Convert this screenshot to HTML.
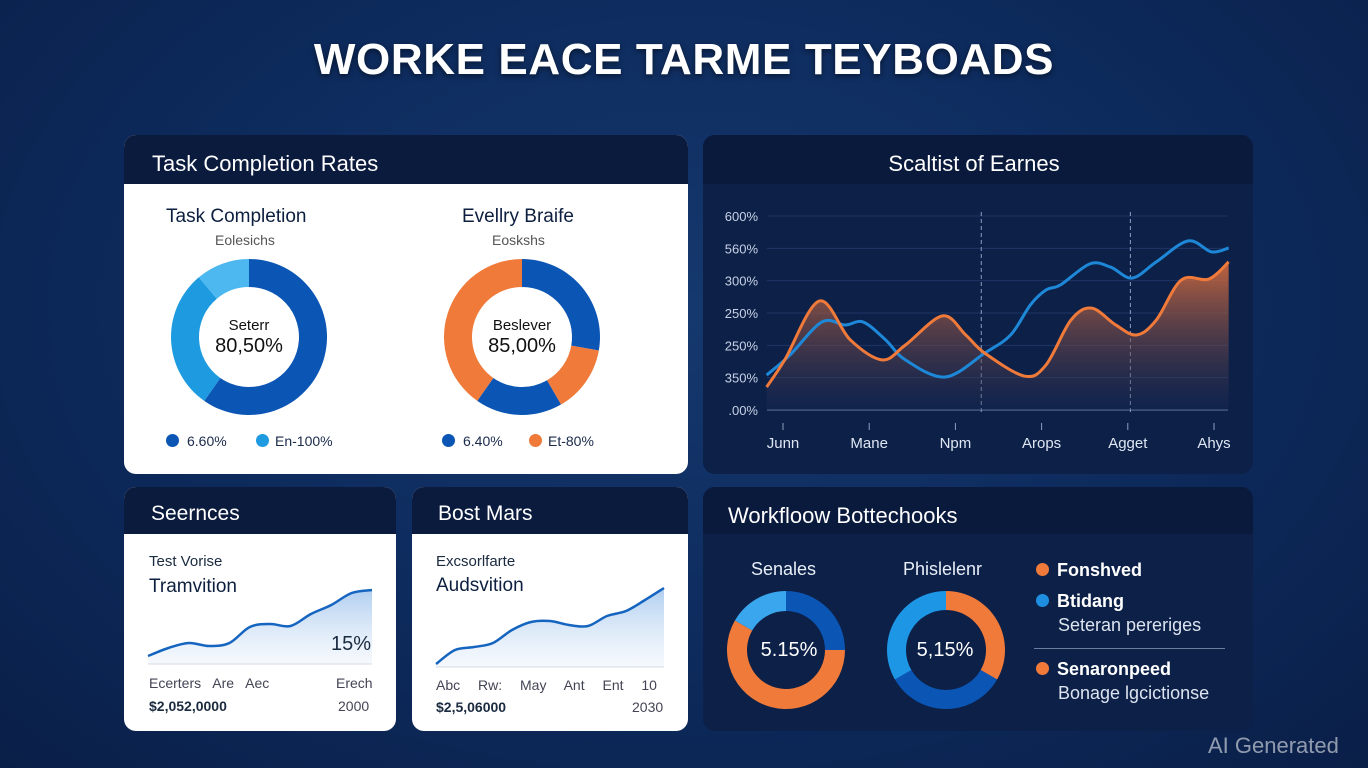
<!DOCTYPE html>
<html><head><meta charset="utf-8">
<style>
*{box-sizing:border-box;margin:0;padding:0}
body{width:1368px;height:768px;overflow:hidden;font-family:"Liberation Sans",sans-serif;background:radial-gradient(ellipse at 50% 40%,#15386e 0%,#0d2a5c 55%,#0a1f48 100%);position:relative;color:#fff}
.abs{position:absolute}
.panel{position:absolute;border-radius:12px;overflow:hidden}
.hdr{position:absolute;left:0;right:0;top:0;background:#0a1b3e;font-size:22px;color:#fff}
.white{background:#fff}
.dark{background:#0c2048}
.t{position:absolute;white-space:nowrap}
</style></head><body>
<div class="t" style="left:0;width:1368px;top:35px;text-align:center;font-size:44px;font-weight:bold;letter-spacing:0.6px;text-shadow:0 2px 6px rgba(0,0,0,.5)">WORKE EACE TARME TEYBOADS</div>

<!-- top-left panel -->
<div class="panel white" style="left:124px;top:135px;width:564px;height:339px">
  <div class="hdr" style="height:49px"><span class="t" style="left:28px;top:16px">Task Completion Rates</span></div>
  <div class="t" style="left:42px;top:71px;font-size:19px;color:#0d1f3f">Task Completion</div>
  <div class="t" style="left:91px;top:97px;font-size:14px;color:#555">Eolesichs</div>
  <div class="t" style="left:338px;top:71px;font-size:19px;color:#0d1f3f">Evellry Braife</div>
  <div class="t" style="left:368px;top:97px;font-size:14px;color:#555">Eoskshs</div>
  <svg id="d1" class="abs" style="left:0;top:0" width="564" height="339"></svg>
  <div class="t" style="left:95px;top:182px;width:60px;text-align:center;font-size:15px;color:#111">Seterr</div>
  <div class="t" style="left:80px;top:200px;width:90px;text-align:center;font-size:20px;color:#111">80,50%</div>
  <div class="t" style="left:363px;top:182px;width:70px;text-align:center;font-size:15px;color:#111">Beslever</div>
  <div class="t" style="left:353px;top:200px;width:90px;text-align:center;font-size:20px;color:#111">85,00%</div>
  <div class="t" style="left:42px;top:298px;font-size:14px;color:#1a2a4a"><span style="display:inline-block;width:13px;height:13px;border-radius:50%;background:#0b56b5;vertical-align:-1px;margin-right:8px"></span>6.60%</div>
  <div class="t" style="left:132px;top:298px;font-size:14px;color:#1a2a4a"><span style="display:inline-block;width:13px;height:13px;border-radius:50%;background:#1e9be0;vertical-align:-1px;margin-right:6px"></span>En-100%</div>
  <div class="t" style="left:318px;top:298px;font-size:14px;color:#1a2a4a"><span style="display:inline-block;width:13px;height:13px;border-radius:50%;background:#0b56b5;vertical-align:-1px;margin-right:8px"></span>6.40%</div>
  <div class="t" style="left:405px;top:298px;font-size:14px;color:#1a2a4a"><span style="display:inline-block;width:13px;height:13px;border-radius:50%;background:#f07a3a;vertical-align:-1px;margin-right:6px"></span>Et-80%</div>
</div>

<!-- top-right chart panel -->
<div class="panel dark" style="left:703px;top:135px;width:550px;height:339px">
  <div class="hdr" style="height:49px;background:#0a1a3c"><span class="t" style="left:0;width:542px;text-align:center;top:16px">Scaltist of Earnes</span></div>
</div>
<svg id="lc" class="abs" style="left:0;top:0" width="1368" height="768"></svg>

<!-- bottom-left cards -->
<div class="panel white" style="left:124px;top:487px;width:272px;height:244px">
  <div class="hdr" style="height:47px"><span class="t" style="left:27px;top:15px;font-size:21px">Seernces</span></div>
  <div class="t" style="left:25px;top:66px;font-size:15px;color:#1a2a3f">Test Vorise</div>
  <div class="t" style="left:25px;top:89px;font-size:19px;color:#0d1f3f">Tramvition</div>
  <div class="t" style="left:25px;top:188px;font-size:14px;color:#445;word-spacing:8px">Ecerters Are Aec</div>
  <div class="t" style="left:212px;top:188px;font-size:14px;color:#445">Erech</div>
  <div class="t" style="left:25px;top:211px;font-size:14px;color:#1a2a3f;font-weight:bold">$2,052,0000</div>
  <div class="t" style="left:214px;top:211px;font-size:14px;color:#445">2000</div>
</div>
<div class="panel white" style="left:412px;top:487px;width:276px;height:244px">
  <div class="hdr" style="height:47px"><span class="t" style="left:26px;top:15px;font-size:21px">Bost Mars</span></div>
  <div class="t" style="left:24px;top:66px;font-size:15px;color:#1a2a3f">Excsorlfarte</div>
  <div class="t" style="left:24px;top:88px;font-size:19px;color:#0d1f3f">Audsvition</div>
  <div class="t" style="left:24px;top:190px;font-size:14px;color:#445;word-spacing:14px">Abc Rw: May Ant Ent 10</div>
  <div class="t" style="left:24px;top:212px;font-size:14px;color:#1a2a3f;font-weight:bold">$2,5,06000</div>
  <div class="t" style="left:220px;top:212px;font-size:14px;color:#445">2030</div>
</div>
<svg id="sp" class="abs" style="left:0;top:0" width="1368" height="768"></svg>
<div class="t" style="left:331px;top:633px;font-size:20px;color:#1a2a3f">15%</div>

<!-- bottom-right panel -->
<div class="panel dark" style="left:703px;top:487px;width:550px;height:244px">
  <div class="hdr" style="height:47px;background:#0a1a3c"><span class="t" style="left:25px;top:16px;font-size:22px">Workfloow Bottechooks</span></div>
  <div class="t" style="left:48px;top:72px;font-size:18px;color:#e8eef8">Senales</div>
  <div class="t" style="left:200px;top:72px;font-size:18px;color:#e8eef8">Phislelenr</div>
  <div class="t" style="left:333px;top:73px;font-size:18px;font-weight:bold"><span style="display:inline-block;width:13px;height:13px;border-radius:50%;background:#f07a3a;margin-right:8px;vertical-align:0"></span>Fonshved</div>
  <div class="t" style="left:333px;top:104px;font-size:18px;font-weight:bold"><span style="display:inline-block;width:13px;height:13px;border-radius:50%;background:#1e8fe0;margin-right:8px;vertical-align:0"></span>Btidang</div>
  <div class="t" style="left:355px;top:128px;font-size:18px;color:#dde4f0">Seteran pereriges</div>
  <div class="abs" style="left:331px;top:161px;width:191px;height:1px;background:#6a7ea0"></div>
  <div class="t" style="left:333px;top:172px;font-size:18px;font-weight:bold"><span style="display:inline-block;width:13px;height:13px;border-radius:50%;background:#f07a3a;margin-right:8px;vertical-align:0"></span>Senaronpeed</div>
  <div class="t" style="left:355px;top:196px;font-size:18px;color:#dde4f0">Bonage lgcictionse</div>
  <svg id="d2" class="abs" style="left:0;top:0" width="550" height="244"></svg>
  <div class="t" style="left:43px;top:152px;width:86px;text-align:center;font-size:20px">5.15%</div>
  <div class="t" style="left:199px;top:152px;width:86px;text-align:center;font-size:20px">5,15%</div>
</div>

<div class="t" style="left:1208px;top:733px;font-size:22px;color:rgba(255,255,255,.55)">AI Generated</div>

<script>
// ---- data ----
const donut1Values=[215,105,40];
const donut1Colors=['#0b56b5','#1e9be0','#4db8f0'];
const donut2Values=[100,50,65,145];
const donut2Colors=['#0b56b5','#f07a3a','#0b56b5','#f07a3a'];
const donut3Values=[90,210,60];
const donut3Colors=['#0b56b5','#f07a3a','#3aa6ee'];
const donut4Values=[120,120,120];
const donut4Colors=['#f07a3a','#0b56b5','#1e96e6'];
const monthLabels=['Junn','Mane','Npm','Arops','Agget','Ahys'];
const yTickLabels=['.00%','350%','250%','250%','300%','560%','600%'];
const blueT=[-0.19,0.08,0.45,0.72,0.93,1.19,1.42,1.88,2.34,2.64,2.87,3.05,3.22,3.56,3.80,4.05,4.33,4.70,4.97,5.17];
const blueV=[1.08,1.70,2.72,2.63,2.72,2.17,1.55,1.02,1.76,2.32,3.25,3.71,3.87,4.52,4.42,4.08,4.58,5.23,4.89,5.01];
const orangeT=[-0.19,0.02,0.42,0.78,1.15,1.42,1.85,2.12,2.34,2.80,3.05,3.34,3.58,3.86,4.10,4.33,4.62,4.94,5.17];
const orangeV=[0.71,1.55,3.37,2.17,1.55,2.01,2.91,2.32,1.76,1.05,1.39,2.78,3.15,2.63,2.32,2.78,4.02,4.05,4.58];
const spark1=[8,16,21,18,21,37,40,38,50,59,71,74];
const spark2=[3,17,20,24,37,45,46,42,41,51,56,67,79];

const NS='http://www.w3.org/2000/svg';
function mk(tag,attrs,parent){const e=document.createElementNS(NS,tag);for(const k in attrs)e.setAttribute(k,attrs[k]);parent.appendChild(e);return e;}
function donut(svg,cx,cy,ro,ri,vals,cols,name){
  const tot=vals.reduce((a,b)=>a+b,0);let a0=0;
  vals.forEach((v,i)=>{
    const a1=a0+v/tot*Math.PI*2;
    const p=(a,r)=>[cx+r*Math.sin(a),cy-r*Math.cos(a)];
    const [x1,y1]=p(a0,ro),[x2,y2]=p(a1,ro),[x3,y3]=p(a1,ri),[x4,y4]=p(a0,ri);
    const lg=(a1-a0)>Math.PI?1:0;
    const path=mk('path',{d:`M${x1},${y1}A${ro},${ro} 0 ${lg} 1 ${x2},${y2}L${x3},${y3}A${ri},${ri} 0 ${lg} 0 ${x4},${y4}Z`,fill:cols[i]},svg);
    
    
    a0=a1;
  });
}
donut(document.getElementById('d1'),125,202,78,50,donut1Values,donut1Colors,'donut1');
donut(document.getElementById('d1'),398,202,78,50,donut2Values,donut2Colors,'donut2');
donut(document.getElementById('d2'),83,163,59,39,donut3Values,donut3Colors,'donut3');
donut(document.getElementById('d2'),243,163,59,40,donut4Values,donut4Colors,'donut4');

// line chart
const lc=document.getElementById('lc');
const X0=783,DX=86.2,Y0=410,YT=216,VMAX=6,XL=767,XR=1228;
const xs=t=>X0+t*DX, ys=v=>Y0-(v/VMAX)*(Y0-YT);
const defs=mk('defs',{},lc);
const g=mk('linearGradient',{id:'og',x1:0,y1:0,x2:0,y2:1},defs);
mk('stop',{offset:'0','stop-color':'#e0703c','stop-opacity':'0.85'},g);
mk('stop',{offset:'1','stop-color':'#1a2a55','stop-opacity':'0.3'},g);
yTickLabels.forEach((l,i)=>{
  const v=i,y=ys(v);
  const gl=mk('line',{x1:XL,x2:XR,y1:y,y2:y,stroke:i==0?'#4a5f88':'#1f3563','stroke-width':i==0?1.5:1},lc);
  
  
  const tx=mk('text',{x:758,y:y+5,'text-anchor':'end','font-size':13,fill:'#c8d2e6','font-family':'Liberation Sans'},lc);
  tx.textContent=l;
  
  
});
[2.3,4.03].forEach(t=>{const d=mk('line',{x1:xs(t),x2:xs(t),y1:YT-4,y2:Y0+4,stroke:'#8ea0c0','stroke-dasharray':'4 3','stroke-width':1},lc);
});
monthLabels.forEach((l,i)=>{
  const x=xs(i);
  mk('line',{x1:x,x2:x,y1:423,y2:430,stroke:'#8ea0c0'},lc);
  const tx=mk('text',{x:x,y:448,'text-anchor':'middle','font-size':15,fill:'#dfe6f3','font-family':'Liberation Sans'},lc);
  tx.textContent=l;
  
  
});
function smooth(T,V){
  const P=T.map((t,i)=>[xs(t),ys(V[i])]);let d=`M${P[0][0]},${P[0][1]}`;
  for(let i=0;i<P.length-1;i++){const p0=P[i-1]||P[i],p1=P[i],p2=P[i+1],p3=P[i+2]||p2;
    d+=`C${p1[0]+(p2[0]-p0[0])/6},${p1[1]+(p2[1]-p0[1])/6} ${p2[0]-(p3[0]-p1[0])/6},${p2[1]-(p3[1]-p1[1])/6} ${p2[0]},${p2[1]}`;}
  return d;
}
const od=smooth(orangeT,orangeV);
const area=mk('path',{d:od+`L${xs(orangeT[orangeT.length-1])},${Y0}L${xs(orangeT[0])},${Y0}Z`,fill:'url(#og)'},lc);


const bl=mk('path',{d:smooth(blueT,blueV),fill:'none',stroke:'#1e88d8','stroke-width':3},lc);


const ol=mk('path',{d:od,fill:'none',stroke:'#f07a3a','stroke-width':3},lc);



// sparklines
const sp=document.getElementById('sp');
const sg=mk('linearGradient',{id:'sg',x1:0,y1:0,x2:0,y2:1},mk('defs',{},sp));
mk('stop',{offset:'0','stop-color':'#9cc2ec','stop-opacity':'0.8'},sg);
mk('stop',{offset:'1','stop-color':'#e8f0fa','stop-opacity':'0.4'},sg);
function spark(vals,x0,x1,base,scale,name){
  const step=(x1-x0)/(vals.length-1);
  const pts=vals.map((v,i)=>[x0+i*step,base-v*scale]);
  let d=`M${pts[0][0]},${pts[0][1]}`;
  for(let i=0;i<pts.length-1;i++){const p0=pts[i-1]||pts[i],p1=pts[i],p2=pts[i+1],p3=pts[i+2]||p2;
    d+=`C${p1[0]+(p2[0]-p0[0])/6},${p1[1]+(p2[1]-p0[1])/6} ${p2[0]-(p3[0]-p1[0])/6},${p2[1]-(p3[1]-p1[1])/6} ${p2[0]},${p2[1]}`;}
  const a=mk('path',{d:d+`L${x1},${base}L${x0},${base}Z`,fill:'url(#sg)'},sp);
  
  mk('line',{x1:x0,x2:x1,y1:base,y2:base,stroke:'#d5dbe5'},sp);
  const l=mk('path',{d:d,fill:'none',stroke:'#1565c0','stroke-width':2.5},sp);
  
}
spark(spark1,148,372,664,1,'sparkline1');
spark(spark2,436,664,667,1,'sparkline2');
</script>
</body></html>
